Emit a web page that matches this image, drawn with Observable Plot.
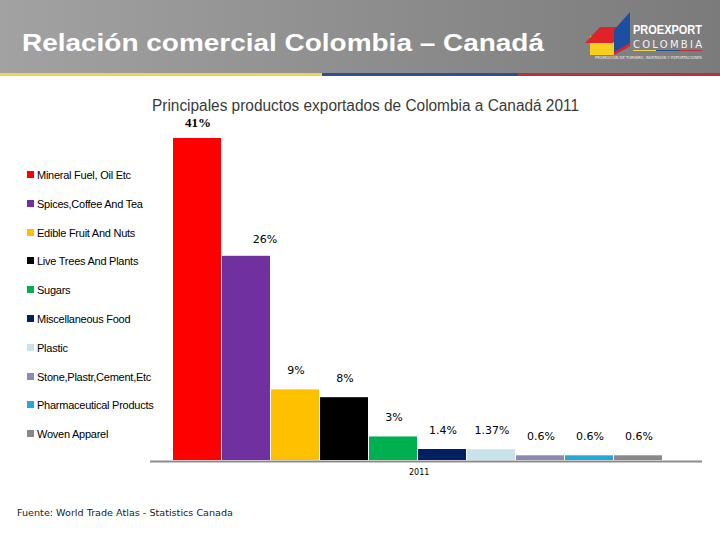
<!DOCTYPE html>
<html>
<head>
<meta charset="utf-8">
<script src="https://cdn.jsdelivr.net/npm/d3@7"></script>
<script src="https://cdn.jsdelivr.net/npm/@observablehq/plot@0.6"></script>
<style>
  html, body { margin: 0; padding: 0; background: #fff; }
  #page { position: relative; width: 720px; height: 540px; overflow: hidden; background: #fff; }
  #header { position: absolute; left: 0; top: 0; }
  #chart { position: absolute; left: 0; top: 110px; }
  #legend { position: absolute; left: 0; top: 0; font-family: "Liberation Sans", Arial, sans-serif; font-size: 11px; color: #000; }
  .item { position: absolute; left: 27px; height: 12px; line-height: 12px; white-space: nowrap; letter-spacing: -0.25px; }
  .sw { position: absolute; left: 0; top: 2px; width: 7px; height: 7px; }
  .lab { position: absolute; left: 10px; top: 0; }
  #axislabel { position: absolute; font-family: "DejaVu Sans", sans-serif; font-size: 8px; color: #000; }
</style>
</head>
<body>
<div id="page">
  <svg id="header" width="720" height="118" xmlns="http://www.w3.org/2000/svg">
    <defs>
      <linearGradient id="hg" x1="0" x2="1" y1="0" y2="0">
        <stop offset="0" stop-color="#a2a2a2"/>
        <stop offset="0.5" stop-color="#8e8e8e"/>
        <stop offset="1" stop-color="#7b7b7b"/>
      </linearGradient>
    </defs>
    <rect x="0" y="0" width="720" height="74" fill="url(#hg)"/>
    <rect x="0" y="73" width="322" height="3" fill="#e8d84a"/>
    <rect x="322" y="73" width="196" height="3" fill="#2f4f8f"/>
    <rect x="518" y="73" width="202" height="3" fill="#b8323a"/>
    <text x="22" y="51" font-family="Liberation Sans, Arial, sans-serif" font-weight="bold" font-size="24" fill="#fff" textLength="522" lengthAdjust="spacingAndGlyphs">Relación comercial Colombia – Canadá</text>
    <!-- logo -->
    <polygon points="590,55 614,55 614,36 590,36" fill="#f5d020"/>
    <polygon points="585,43 600,27 628,27 613,43" fill="#e02229"/>
    <polygon points="614,55 614,30 630,12 630,46" fill="#1c4fa0"/>
    <polygon points="614,55 614,52 630,43 630,46" fill="#e02229"/>
    <text x="633" y="34" font-family="Liberation Sans, Arial, sans-serif" font-weight="bold" font-size="13" fill="#fff" textLength="69" lengthAdjust="spacingAndGlyphs">PROEXPORT</text>
    <text x="633" y="48" font-family="DejaVu Sans, sans-serif" font-size="10" fill="#f2f2f2" textLength="69" lengthAdjust="spacing">COLOMBIA</text>
    <rect x="633" y="50" width="23" height="1" fill="#e8d84a"/>
    <rect x="656" y="50" width="23" height="1" fill="#2f4f8f"/>
    <rect x="679" y="50" width="23" height="1" fill="#b8323a"/>
    <text x="595" y="59" font-family="DejaVu Sans, sans-serif" font-size="4" fill="#eee" textLength="107" lengthAdjust="spacingAndGlyphs">PROMOCIÓN DE TURISMO, INVERSIÓN Y EXPORTACIONES</text>
    <text x="152" y="111" font-family="Liberation Sans, Arial, sans-serif" font-size="16" fill="#3a3a3a" textLength="427" lengthAdjust="spacingAndGlyphs">Principales productos exportados de Colombia a Canadá 2011</text>
  </svg>
  <div id="chart"></div>
  <div id="legend"></div>
  <div id="axislabel">2011</div>
  <svg style="position:absolute;left:0;top:500px" width="720" height="30">
    <text x="17" y="16" font-family="DejaVu Sans, sans-serif" font-size="9.5" fill="#222" textLength="216" lengthAdjust="spacingAndGlyphs">Fuente: World Trade Atlas - Statistics Canada</text>
  </svg>
</div>
<script>
const categories = [
  "Mineral Fuel, Oil Etc",
  "Spices,Coffee And Tea",
  "Edible Fruit And Nuts",
  "Live Trees And Plants",
  "Sugars",
  "Miscellaneous Food",
  "Plastic",
  "Stone,Plastr,Cement,Etc",
  "Pharmaceutical Products",
  "Woven Apparel"
];
const values = [41, 26, 9, 8, 3, 1.4, 1.37, 0.6, 0.6, 0.6];
const valueLabels = ["41%", "26%", "9%", "8%", "3%", "1.4%", "1.37%", "0.6%", "0.6%", "0.6%"];
const colors = ["#ff0000", "#7030a0", "#ffc000", "#000000", "#00b050", "#002060", "#c9e3ea", "#8a8ab4", "#25a8d8", "#888888"];

const data = categories.map((c, i) => ({category: c, value: values[i], label: valueLabels[i]}));

const chart = Plot.plot({
  width: 720,
  height: 380,
  marginLeft: 150,
  marginRight: 18,
  marginTop: 28,
  marginBottom: 30,
  x: {domain: categories, axis: null, paddingInner: 0, paddingOuter: 0.61, align: 0.367},
  y: {domain: [0, 41], axis: null},
  color: {domain: categories, range: colors},
  marks: [
    Plot.barY(data, {x: "category", y: "value", fill: "category", insetRight: 1}),
    Plot.ruleY([0], {stroke: "#8c8c8c", strokeWidth: 2, dy: 1}),
    Plot.text(data.filter((d, i) => i === 0), {x: "category", y: "value", text: "label", dy: -16, fontFamily: "Liberation Serif, serif", fontWeight: "bold", fontSize: 13, fill: "#000"}),
    Plot.text(data.filter((d, i) => i === 1), {x: "category", y: "value", text: "label", dy: -17, dx: 18, fontFamily: "DejaVu Sans, sans-serif", fontSize: 11, fill: "#000"}),
    Plot.text(data.filter((d, i) => i > 1), {x: "category", y: "value", text: "label", dy: -19, fontFamily: "DejaVu Sans, sans-serif", fontSize: 11, fill: "#000"})
  ]
});
document.getElementById("chart").appendChild(chart);

// axis label centered under the bars
const xs = chart.scale("x");
const bw = xs.bandwidth;
const first = xs.apply(categories[0]);
const last = xs.apply(categories[categories.length - 1]) + bw;
const al = document.getElementById("axislabel");
al.style.left = ((first + last) / 2 - 9) + "px";
al.style.top = "468px";

// legend
const legend = document.getElementById("legend");
categories.forEach((c, i) => {
  const item = document.createElement("div");
  item.className = "item";
  item.style.top = (169 + i * 28.8) + "px";
  const sw = document.createElement("div");
  sw.className = "sw";
  sw.style.background = colors[i];
  const lab = document.createElement("div");
  lab.className = "lab";
  lab.textContent = c;
  item.appendChild(sw);
  item.appendChild(lab);
  legend.appendChild(item);
});
</script>
</body>
</html>
